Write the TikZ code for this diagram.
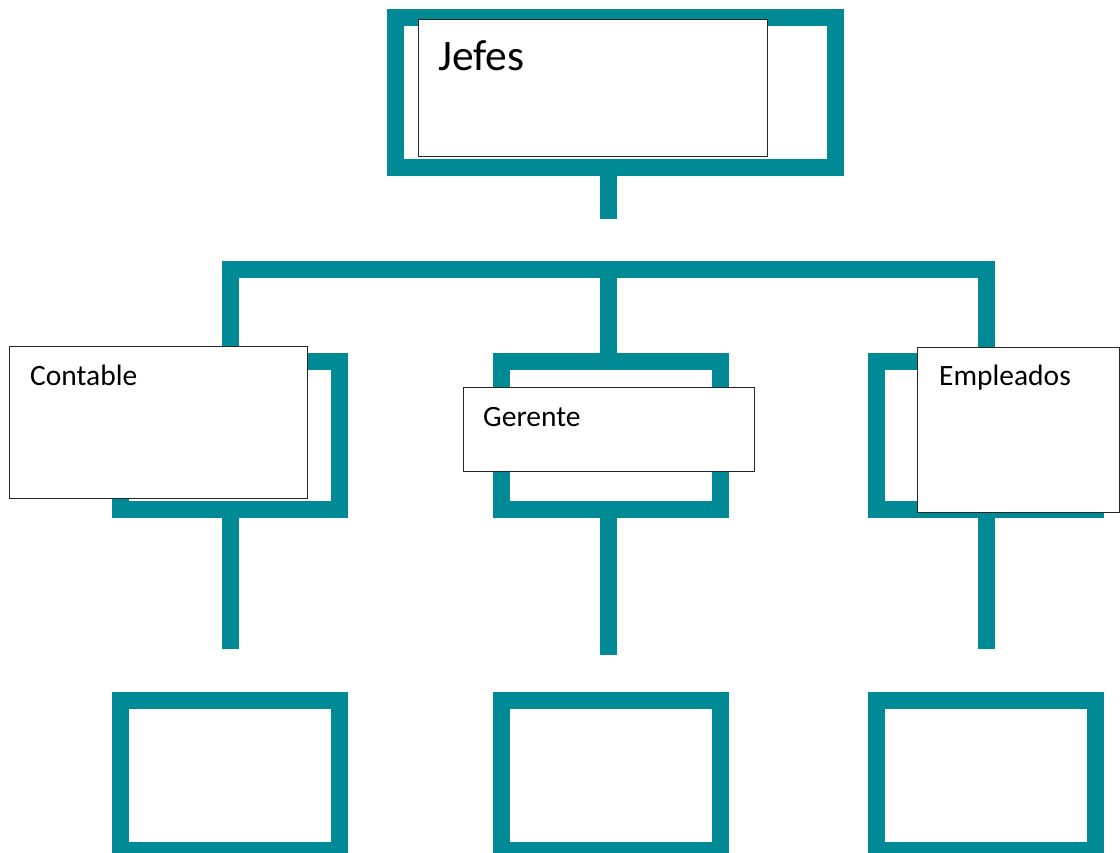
\documentclass[tikz,border=0pt]{standalone}
\usepackage{fontspec}
\setmainfont{Carlito}
\definecolor{teal1}{RGB}{0,138,150}
\tikzset{
  frame/.style={draw=teal1, line width=17pt, rectangle, inner sep=0pt, fill=none},
  link/.style={draw=teal1, line width=17pt, line cap=butt, line join=miter},
  labelbox/.style={draw=black!85, line width=1pt, fill=white, rectangle, inner sep=0pt, anchor=north west},
  bigtxt/.style={font=\fontsize{43.5}{50}\selectfont, anchor=base west, inner sep=0pt},
  smalltxt/.style={font=\fontsize{29.5}{35}\selectfont, anchor=base west, inner sep=0pt}
}
\begin{document}
\begin{tikzpicture}[x=1pt,y=-1pt]
\useasboundingbox (0,0) rectangle (1120,853);
\clip (0,0) rectangle (1120,853);
% teal frames
\node[frame, minimum width=440pt, minimum height=149.5pt] (top) at (615.5,92.75) {};
\node[frame, minimum width=219pt, minimum height=148pt] (fL) at (230,435.5) {};
\node[frame, minimum width=219pt, minimum height=148pt] (fM) at (611,435.5) {};
\node[frame, minimum width=219pt, minimum height=148pt] (fR) at (986,435.5) {};
\node[frame, minimum width=219pt, minimum height=150pt] (bL) at (230,775.5) {};
\node[frame, minimum width=219pt, minimum height=150pt] (bM) at (611,775.5) {};
\node[frame, minimum width=219pt, minimum height=150pt] (bR) at (986,775.5) {};
% connectors
\coordinate (topEnd) at (608,219);
\coordinate (busL) at (230,270);
\coordinate (busM) at (608,270);
\coordinate (busR) at (986,270);
\coordinate (lowL) at (230,649);
\coordinate (lowM) at (608,655);
\coordinate (lowR) at (986,649);
\draw[link] (topEnd |- top.south) -- (topEnd);
\draw[link] (fL.north) -- (busL) -- (busR) -- (fR.north);
\draw[link] (busM) -- (busM |- fM.north);
\draw[link] (fL.south) -- (lowL);
\draw[link] (lowM |- fM.south) -- (lowM);
\draw[link] (fR.south) -- (lowR);
% white label boxes
\node[labelbox, minimum width=349pt, minimum height=137pt] (jefes) at (418,19) {};
\node[bigtxt] (tJefes) at ([shift={(20,52)}]jefes.north west) {Jefes};
\node[labelbox, minimum width=298pt, minimum height=152pt] (contable) at (9,346) {};
\node[smalltxt] (tContable) at ([shift={(21,39)}]contable.north west) {Contable};
\node[labelbox, minimum width=291pt, minimum height=84pt] (gerente) at (463,387) {};
\node[smalltxt] (tGerente) at ([shift={(20,39)}]gerente.north west) {Gerente};
\node[labelbox, minimum width=202pt, minimum height=165pt] (empleados) at (917,347) {};
\node[smalltxt] (tEmpleados) at ([shift={(22,38)}]empleados.north west) {Empleados};
\end{tikzpicture}
\end{document}
